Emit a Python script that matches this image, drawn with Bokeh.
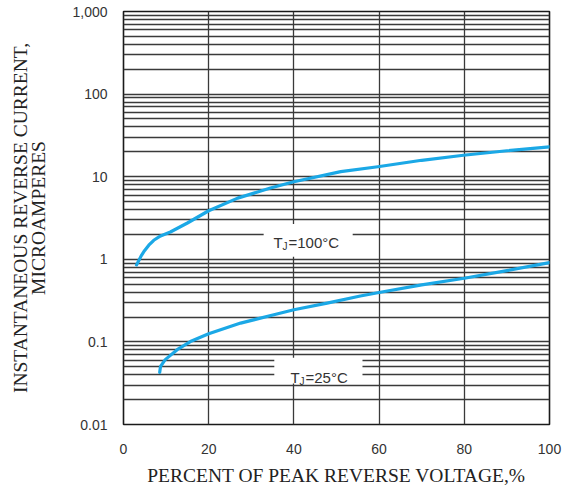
from bokeh.plotting import figure
from bokeh.models import FixedTicker, NumeralTickFormatter
from bokeh.core.properties import value
from bokeh.embed import file_html
from bokeh.resources import INLINE

# ---- data ----
x_100 = [3.05, 3.6, 4.15, 4.93, 5.94, 7.1, 8.7, 11.0, 15.0, 20.0, 26.8, 34.5, 40.0, 51.0, 59.7, 70.0, 79.8, 90.0, 100.0]
y_100 = [0.855, 0.965, 1.10, 1.27, 1.48, 1.70, 1.92, 2.14, 2.75, 3.87, 5.5, 7.3, 8.7, 11.5, 13.2, 15.8, 18.2, 20.6, 23.0]

x_25 = [8.5, 8.7, 9.8, 12.6, 15.7, 20.0, 27.5, 35.3, 40.0, 47.8, 55.6, 60.0, 70.0, 80.0, 90.0, 100.0]
y_25 = [0.0428, 0.0506, 0.061, 0.0805, 0.101, 0.1256, 0.169, 0.213, 0.245, 0.295, 0.36, 0.396, 0.49, 0.59, 0.73, 0.91]

x_ticks = [0, 20, 40, 60, 80, 100]
y_ticks = [0.01, 0.1, 1, 10, 100, 1000]
y_minor = [m * d for d in [0.01, 0.1, 1, 10, 100] for m in [2, 3, 4, 5, 6, 7, 8, 9]]

# label annotations (box extents and text anchors)
lab_texts = ["=100°C", "=25°C"]
lab_x = [35.2, 39.2]
lab_y = [1.58, 0.037]
box_left = [32.9, 35.4]
box_right = [53.8, 56.1]
box_bottom = [1.07, 0.0313]
box_top = [2.68, 0.0644]

CURVE = "#1ba8e6"
GRID = "#3a3a3a"

p = figure(width=570, height=488, x_range=(0, 100), y_range=(0.01, 1000),
           y_axis_type="log", output_backend="svg", toolbar_location=None,
           min_border_left=123, min_border_right=21, min_border_top=11,
           min_border_bottom=63)

p.background_fill_color = "white"
p.border_fill_color = "white"
p.outline_line_color = "#1a1a1a"
p.outline_line_width = 1.6

# axes
p.xaxis.ticker = FixedTicker(ticks=x_ticks)
p.yaxis.ticker = FixedTicker(ticks=y_ticks, minor_ticks=y_minor)
p.yaxis.formatter = NumeralTickFormatter(format="0,0.[00]")
for ax in (p.xaxis, p.yaxis):
    ax.axis_line_color = None
    ax.major_tick_line_color = None
    ax.minor_tick_line_color = None
    ax.major_label_text_font = "Liberation Sans"
    ax.major_label_text_font_size = "14px"
    ax.major_label_text_color = "#333333"
    ax.axis_label_text_font = "Liberation Serif"
    ax.axis_label_text_font_style = "normal"
    ax.axis_label_text_font_size = "19.5px"
    ax.axis_label_text_color = "#222222"

p.xaxis.major_label_standoff = 13
p.yaxis.major_label_standoff = 10

p.xaxis.axis_label = "PERCENT OF PEAK REVERSE VOLTAGE,%"
p.xaxis.axis_label_standoff = 8
p.yaxis.axis_label = "INSTANTANEOUS REVERSE CURRENT,\nMICROAMPERES"
p.yaxis.axis_label_standoff = 20
p.yaxis.axis_label_text_line_height = 0.88

# grids
p.xgrid.grid_line_color = GRID
p.xgrid.grid_line_width = 1.3
p.ygrid.grid_line_color = GRID
p.ygrid.grid_line_width = 1.3
p.ygrid.minor_grid_line_color = GRID
p.ygrid.minor_grid_line_width = 1.3

# curves
p.line(x_100, y_100, line_color=CURVE, line_width=3.2, line_cap="round", line_join="round")
p.line(x_25, y_25, line_color=CURVE, line_width=3.2, line_cap="round", line_join="round")

# label boxes
p.quad(left=box_left, right=box_right, bottom=box_bottom, top=box_top,
       fill_color="white", line_color=None)

p.text(x=lab_x, y=lab_y, text=["T", "T"], text_font=value("Liberation Sans"),
       text_font_size="15px", text_color="#333333", text_baseline="alphabetic",
       text_align="left")
p.text(x=lab_x, y=lab_y, text=["J", "J"], text_font=value("Liberation Sans"),
       text_font_size="10px", text_color="#333333", text_baseline="alphabetic",
       text_align="left", x_offset=9, y_offset=4)
p.text(x=lab_x, y=lab_y, text=lab_texts, text_font=value("Liberation Sans"),
       text_font_size="15px", text_color="#333333", text_baseline="alphabetic",
       text_align="left", x_offset=15)

open("out.html", "w").write(file_html(p, INLINE))
